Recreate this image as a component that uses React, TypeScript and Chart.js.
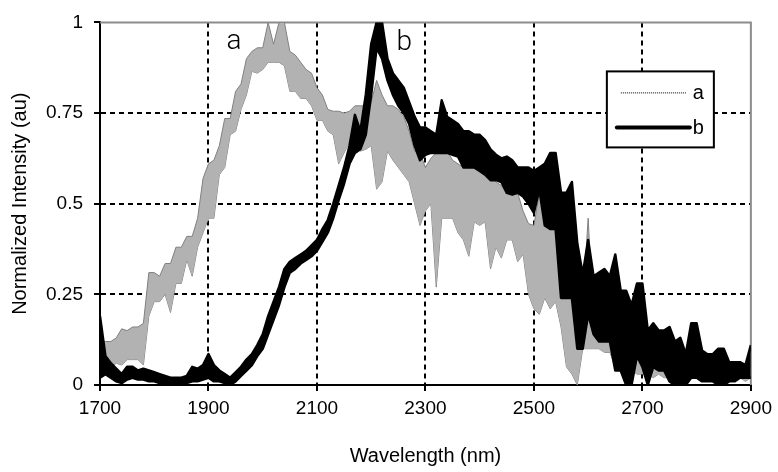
import { useEffect, useRef } from 'react';
import { Chart, registerables } from 'chart.js';

Chart.register(...registerables);

// Both spectra are noisy, so each one is kept as the upper and lower edge of
// its trace, sampled every 10 nm from 1700 nm to 2900 nm (one row = 100 nm).
const wavelengthStart = 1700;
const wavelengthStep = 10;

const spectrumAUpper = [
  0.12, 0.12, 0.12, 0.13, 0.155, 0.15, 0.16, 0.16, 0.17, 0.31,
  0.31, 0.30, 0.335, 0.335, 0.38, 0.38, 0.41, 0.41, 0.46, 0.57,
  0.61, 0.62, 0.66, 0.735, 0.735, 0.81, 0.83, 0.90, 0.92, 0.93,
  0.93, 1.0, 0.94, 1.0, 1.0, 0.92, 0.91, 0.89, 0.87, 0.86,
  0.82, 0.80, 0.76, 0.755, 0.755, 0.75, 0.755, 0.77, 0.77, 0.77,
  0.78, 0.84, 0.80, 0.77, 0.77, 0.76, 0.74, 0.70, 0.645, 0.64,
  0.60, 0.625, 0.64, 0.645, 0.645, 0.62, 0.61, 0.60, 0.60, 0.60,
  0.60, 0.60, 0.58, 0.56, 0.55, 0.53, 0.53, 0.53, 0.48, 0.445,
  0.44, 0.53, 0.50, 0.44, 0.44, 0.33, 0.30, 0.23, 0.22, 0.22,
  0.46, 0.165, 0.16, 0.12, 0.12, 0.11, 0.10, 0.10, 0.09, 0.09,
  0.08, 0.09, 0.08, 0.07, 0.08, 0.08, 0.07, 0.08, 0.07, 0.07,
  0.07, 0.06, 0.07, 0.06, 0.06, 0.06, 0.05, 0.06, 0.05, 0.05,
  0.05,
];

const spectrumALower = [
  0.06, 0.05, 0.05, 0.06, 0.055, 0.07, 0.07, 0.07, 0.055, 0.19,
  0.23, 0.23, 0.25, 0.20, 0.28, 0.28, 0.345, 0.30, 0.38, 0.42,
  0.46, 0.46, 0.58, 0.60, 0.69, 0.70, 0.76, 0.80, 0.865, 0.86,
  0.87, 0.89, 0.89, 0.89, 0.88, 0.81, 0.81, 0.79, 0.79, 0.77,
  0.73, 0.73, 0.70, 0.69, 0.61, 0.64, 0.67, 0.66, 0.645, 0.65,
  0.66, 0.54, 0.56, 0.645, 0.62, 0.60, 0.58, 0.56, 0.50, 0.44,
  0.48, 0.50, 0.27, 0.46, 0.46, 0.46, 0.42, 0.40, 0.355, 0.45,
  0.44, 0.45, 0.32, 0.38, 0.35, 0.40, 0.40, 0.34, 0.36, 0.25,
  0.21, 0.195, 0.24, 0.21, 0.23, 0.16, 0.05, 0.03, 0.00, 0.10,
  0.10, 0.10, 0.10, 0.09, 0.09, 0.05, 0.04, 0.03, 0.04, 0.03,
  0.03, 0.03, 0.02, 0.03, 0.02, 0.02, 0.03, 0.02, 0.02, 0.02,
  0.02, 0.02, 0.01, 0.02, 0.02, 0.02, 0.01, 0.02, 0.02, 0.01,
  0.02,
];

const spectrumBUpper = [
  0.19, 0.08, 0.06, 0.045, 0.03, 0.05, 0.05, 0.04, 0.045, 0.04,
  0.035, 0.03, 0.025, 0.02, 0.02, 0.02, 0.025, 0.05, 0.045, 0.055,
  0.085, 0.055, 0.04, 0.03, 0.02, 0.035, 0.05, 0.07, 0.085, 0.11,
  0.14, 0.19, 0.23, 0.27, 0.32, 0.34, 0.35, 0.36, 0.37, 0.385,
  0.40, 0.43, 0.455, 0.50, 0.55, 0.60, 0.66, 0.745, 0.70, 0.80,
  0.94, 1.0, 1.0, 0.90, 0.86, 0.84, 0.82, 0.78, 0.74, 0.71,
  0.71, 0.70, 0.69, 0.785, 0.74, 0.73, 0.72, 0.70, 0.70, 0.69,
  0.69, 0.675, 0.65, 0.635, 0.625, 0.63, 0.62, 0.60, 0.60, 0.60,
  0.59, 0.60, 0.61, 0.64, 0.64, 0.53, 0.53, 0.56, 0.39, 0.305,
  0.40, 0.30, 0.31, 0.32, 0.30, 0.36, 0.26, 0.26, 0.22, 0.28,
  0.28, 0.15, 0.17, 0.15, 0.15, 0.16, 0.12, 0.13, 0.085, 0.17,
  0.17, 0.095, 0.085, 0.085, 0.10, 0.10, 0.063, 0.063, 0.063, 0.055,
  0.11,
];

const spectrumBLower = [
  0.02, 0.03, 0.02, 0.01, 0.005, 0.015, 0.02, 0.015, 0.015, 0.01,
  0.01, 0.005, 0.005, 0.005, 0.005, 0.005, 0.005, 0.01, 0.01, 0.015,
  0.02, 0.01, 0.01, 0.005, 0.0, 0.01, 0.025, 0.04, 0.055, 0.08,
  0.10, 0.14, 0.18, 0.22, 0.27, 0.31, 0.32, 0.335, 0.345, 0.355,
  0.37, 0.395, 0.42, 0.46, 0.51, 0.555, 0.61, 0.64, 0.65, 0.69,
  0.80, 0.93, 0.90, 0.84, 0.80, 0.77, 0.75, 0.72, 0.66, 0.62,
  0.635, 0.64, 0.64, 0.64, 0.64, 0.635, 0.63, 0.60, 0.60, 0.60,
  0.59, 0.58, 0.565, 0.565, 0.56, 0.53, 0.525, 0.53, 0.52, 0.50,
  0.475, 0.54, 0.44, 0.43, 0.43, 0.24, 0.24, 0.24, 0.10, 0.10,
  0.195, 0.14, 0.12, 0.12, 0.12, 0.04, 0.04, 0.0, 0.0, 0.08,
  0.05, 0.0, 0.05, 0.04, 0.04, 0.01, 0.0, 0.0, 0.0, 0.02,
  0.02, 0.01, 0.01, 0.01, 0.0, 0.0, 0.01, 0.01, 0.02, 0.02,
  0.02,
];

const seriesNames = ['a', 'b'];
const xTickValues = [1700, 1900, 2100, 2300, 2500, 2700, 2900];
const yTickValues = [0, 0.25, 0.5, 0.75, 1];

// Where the in-plot series letters sit (data coordinates).
const peakLabelA = { x: 1947, y: 0.945 };
const peakLabelB = { x: 2261, y: 0.943 };

const FONT = '"Liberation Sans", Arial, sans-serif';

const toPoints = (values: number[]) =>
  values.map((y, i) => ({ x: wavelengthStart + i * wavelengthStep, y }));

const framePlugin = {
  id: 'frame',
  beforeDatasetsDraw(chart: any) {
    const { ctx, chartArea } = chart;
    const { left, top, right, bottom } = chartArea;
    ctx.save();
    ctx.strokeStyle = '#8c8c8c';
    ctx.lineWidth = 2;
    ctx.beginPath();
    ctx.moveTo(left, top);
    ctx.lineTo(right, top);
    ctx.lineTo(right, bottom);
    ctx.stroke();
    ctx.restore();
  },
  afterDraw(chart: any) {
    const { ctx, chartArea, scales } = chart;
    ctx.save();

    // series letters inside the plot
    ctx.fillStyle = '#000';
    ctx.textAlign = 'center';
    ctx.textBaseline = 'middle';
    ctx.font = `300 28px Roboto, ${FONT}`;
    ctx.fillText(seriesNames[0], scales.x.getPixelForValue(peakLabelA.x), scales.y.getPixelForValue(peakLabelA.y));
    ctx.fillText(seriesNames[1], scales.x.getPixelForValue(peakLabelB.x), scales.y.getPixelForValue(peakLabelB.y));

    // legend box
    const bx = chartArea.right - 144;
    const by = chartArea.top + 49;
    const bw = 107;
    const bh = 76;
    ctx.fillStyle = '#fff';
    ctx.fillRect(bx, by, bw, bh);
    ctx.strokeStyle = '#000';
    ctx.lineWidth = 2;
    ctx.strokeRect(bx, by, bw, bh);

    // dotted sample for a
    ctx.strokeStyle = '#000';
    ctx.lineWidth = 1;
    ctx.setLineDash([1, 1]);
    ctx.beginPath();
    ctx.moveTo(bx + 14, by + 21.5);
    ctx.lineTo(bx + 80, by + 21.5);
    ctx.stroke();

    // thick sample for b
    ctx.setLineDash([]);
    ctx.lineWidth = 4;
    ctx.lineCap = 'round';
    ctx.beginPath();
    ctx.moveTo(bx + 10, by + 56);
    ctx.lineTo(bx + 83, by + 56);
    ctx.stroke();

    ctx.fillStyle = '#000';
    ctx.font = `20px ${FONT}`;
    ctx.textAlign = 'left';
    ctx.textBaseline = 'alphabetic';
    ctx.fillText(seriesNames[0], bx + 86, by + 28);
    ctx.fillText(seriesNames[1], bx + 86, by + 63);
    ctx.restore();
  },
};

const hideEdges = (edges: number[]) => (c: any) =>
  c.tick && edges.includes(c.tick.value) ? 'rgba(0,0,0,0)' : '#000';

export default function App() {
  const canvasRef = useRef<HTMLCanvasElement | null>(null);

  useEffect(() => {
    if (!canvasRef.current) return;
    const trace = { pointRadius: 0, tension: 0, borderJoinStyle: 'round' as const };
    const chart = new Chart(canvasRef.current, {
      type: 'line',
      data: {
        datasets: [
          {
            ...trace,
            label: seriesNames[1],
            data: toPoints(spectrumBUpper),
            borderColor: '#000',
            borderWidth: 2.5,
            backgroundColor: '#000',
            fill: '+1',
          },
          {
            ...trace,
            label: seriesNames[1],
            data: toPoints(spectrumBLower),
            borderColor: '#000',
            borderWidth: 2.5,
            fill: false,
          },
          {
            ...trace,
            label: seriesNames[0],
            data: toPoints(spectrumAUpper),
            borderColor: '#808080',
            borderWidth: 1,
            backgroundColor: '#b2b2b2',
            fill: '+1',
          },
          {
            ...trace,
            label: seriesNames[0],
            data: toPoints(spectrumALower),
            borderColor: '#808080',
            borderWidth: 1,
            fill: false,
          },
        ],
      },
      options: {
        responsive: false,
        animation: false,
        devicePixelRatio: 1,
        events: [],
        layout: { autoPadding: false, padding: { top: 18, right: 21, left: 0, bottom: 0 } },
        plugins: { legend: { display: false }, tooltip: { enabled: false } },
        scales: {
          x: {
            type: 'linear',
            min: 1700,
            max: 2900,
            afterFit: (s: any) => { s.height = 87; },
            afterBuildTicks: (s: any) => { s.ticks = xTickValues.map((value) => ({ value })); },
            ticks: {
              color: '#000',
              font: { family: FONT, size: 19 },
              padding: 6,
              maxRotation: 0,
              autoSkip: false,
              callback: (v: any) => String(v),
            },
            grid: {
              color: hideEdges([1700, 2900]),
              lineWidth: 2,
              tickColor: '#000',
              tickLength: 6,
              tickWidth: 2,
            },
            border: { display: true, color: '#000', width: 2, dash: [5, 4] },
            title: {
              display: true,
              text: 'Wavelength (nm)',
              color: '#000',
              font: { family: FONT, size: 20 },
              padding: { top: 0, bottom: 4 },
            },
          },
          y: {
            min: 0,
            max: 1,
            afterFit: (s: any) => { s.width = 100; },
            afterBuildTicks: (s: any) => { s.ticks = yTickValues.map((value) => ({ value })); },
            ticks: {
              color: '#000',
              font: { family: FONT, size: 19 },
              padding: 11,
              callback: (v: any) => String(v),
            },
            grid: {
              color: hideEdges([0, 1]),
              lineWidth: 2,
              tickColor: '#000',
              tickLength: 6,
              tickWidth: 2,
            },
            border: { display: true, color: '#000', width: 2, dash: [5, 4] },
            title: {
              display: true,
              text: 'Normalized Intensity (au)',
              color: '#000',
              font: { family: FONT, size: 20 },
              padding: { top: 8, bottom: 0 },
            },
          },
        },
      },
      plugins: [framePlugin],
    });
    return () => chart.destroy();
  }, []);

  return (
    <div style={{ position: 'absolute', left: 0, top: 0, width: 778, height: 472, background: '#fff' }}>
      <canvas ref={canvasRef} width={778} height={472} style={{ width: 778, height: 472 }} />
    </div>
  );
}
